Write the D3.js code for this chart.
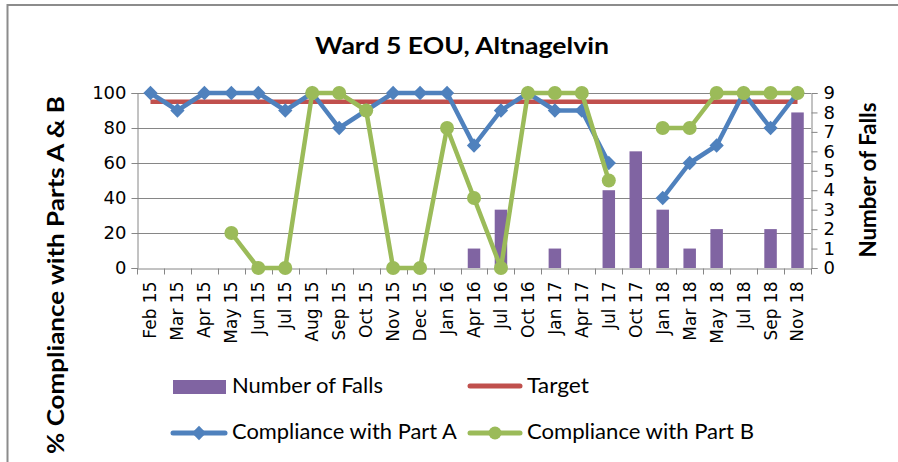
<!DOCTYPE html>
<html>
<head>
<meta charset="utf-8">
<script src="https://cdn.jsdelivr.net/npm/d3@7"></script>
<style>
  body { margin: 0; background: #fff; }
  svg { display: block; font-family: Lato, sans-serif; }
  .tick text { fill: #000; }
</style>
</head>
<body>
<svg id="chart" width="898" height="462"></svg>
<script>
// chart data
const months = ["Feb 15","Mar 15","Apr 15","May 15","Jun 15","Jul 15","Aug 15","Sep 15","Oct 15","Nov 15",
  "Dec 15","Jan 16","Apr 16","Jul 16","Oct 16","Jan 17","Apr 17","Jul 17","Oct 17","Jan 18",
  "Mar 18","May 18","Jul 18","Sep 18","Nov 18"];
const partA = [100,90,100,100,100,90,100,80,90,100,100,100,70,90,100,90,90,60,null,40,60,70,100,80,100];
const partB = [null,null,null,20,0,0,100,100,90,0,0,80,40,0,100,100,100,50,null,80,80,100,100,100,100];
const falls = [0,0,0,0,0,0,0,0,0,0,0,0,1,3,0,1,0,4,6,3,1,2,0,2,8];
const target = 95;
const leftTicks = [0,20,40,60,80,100];
const rightTicks = [0,1,2,3,4,5,6,7,8,9];

const colors = {falls: "#8064A2", target: "#C0504D", a: "#4F81BD", b: "#9BBB59", axis: "#868686"};

const svg = d3.select("#chart");
const margin = {left: 137, right: 87, top: 93, bottom: 194};
const W = 898, H = 462;

// stretch/squeeze a text horizontally so it takes the given width (the original font is Calibri)
function fitText(sel, tx, ty, width, rot) {
  const w = sel.node().getComputedTextLength();
  const k = width / w;
  sel.attr("transform", `translate(${tx},${ty})${rot ? " rotate(" + rot + ")" : ""} scale(${k},1)`);
  return sel;
}

// outer frame
svg.append("rect").attr("x", 7.5).attr("y", 5).attr("width", 900).attr("height", 470)
  .attr("fill", "none").attr("stroke", "#8c8c8c").attr("stroke-width", 2);

const x = d3.scaleBand().domain(months).range([margin.left, W - margin.right]);
const yL = d3.scaleLinear().domain([0, 100]).range([H - margin.bottom, margin.top]);
const yR = d3.scaleLinear().domain([0, 9]).range([H - margin.bottom, margin.top]);
const cx = d => x(d) + x.bandwidth() / 2;

// title
fitText(svg.append("text").attr("text-anchor", "middle")
  .style("font-size", "23px").style("font-weight", "bold")
  .text("Ward 5 EOU, Altnagelvin"), 462, 54, 294);

// gridlines
svg.append("g").selectAll("line").data(leftTicks.filter(d => d > 0)).join("line")
  .attr("x1", margin.left).attr("x2", W - margin.right)
  .attr("y1", d => yL(d) + 0.5).attr("y2", d => yL(d) + 0.5)
  .attr("stroke", colors.axis).attr("stroke-width", 1);

// axes
const axL = svg.append("g").attr("transform", `translate(${margin.left + 0.5},0)`)
  .call(d3.axisLeft(yL).tickValues(leftTicks).tickSizeOuter(0).tickSize(6).tickPadding(5));
const axR = svg.append("g").attr("transform", `translate(${W - margin.right + 0.5},0)`)
  .call(d3.axisRight(yR).tickValues(rightTicks).tickSizeOuter(0).tickSize(6).tickPadding(6));
const axX = svg.append("g").attr("transform", `translate(0,${H - margin.bottom + 0.5})`)
  .call(d3.axisBottom(x).tickSize(0).tickPadding(0));
[axL, axR, axX].forEach(g => {
  g.select(".domain").attr("stroke", colors.axis);
  g.selectAll(".tick line").attr("stroke", colors.axis);
  g.selectAll(".tick text").style("font-family", "DejaVu Sans, sans-serif").style("font-size", "17px");
});
axR.selectAll(".tick text").style("font-size", "18px");
axL.selectAll(".tick text").style("font-size", "18px");
axX.selectAll(".tick text")
  .attr("transform", "rotate(-90)").attr("text-anchor", "end")
  .attr("x", -13).attr("y", 0).attr("dy", "0.35em");
// x ticks at band edges
const edges = months.map(m => x(m)).concat([W - margin.right]);
axX.append("g").selectAll("line").data(edges).join("line")
  .attr("x1", d => Math.round(d) + 0.5).attr("x2", d => Math.round(d) + 0.5)
  .attr("y1", 0).attr("y2", 6).attr("stroke", colors.axis);

// axis titles
fitText(svg.append("text").attr("text-anchor", "middle").style("font-weight", "bold")
  .style("font-size", "22px").text("% Compliance with Parts A & B"), 64, 275, 358, -90);
fitText(svg.append("text").attr("text-anchor", "middle").style("font-weight", "bold")
  .style("font-size", "22px").text("Number of Falls"), 876, 180, 155, -90);

// falls bars
const bw = 12.5;
svg.append("g").selectAll("rect").data(months.map((m, i) => ({m, v: falls[i]})).filter(d => d.v > 0)).join("rect")
  .attr("x", d => cx(d.m) - bw / 2).attr("width", bw)
  .attr("y", d => yR(d.v)).attr("height", d => yR(0) - yR(d.v))
  .attr("fill", colors.falls);

// target line
svg.append("line").attr("x1", cx(months[0])).attr("x2", cx(months[months.length - 1]))
  .attr("y1", yL(target)).attr("y2", yL(target))
  .attr("stroke", colors.target).attr("stroke-width", 4.5);

const line = d3.line().defined(d => d.v != null).x(d => cx(d.m)).y(d => yL(d.v));
const ptsA = months.map((m, i) => ({m, v: partA[i]}));
const ptsB = months.map((m, i) => ({m, v: partB[i]}));

svg.append("path").datum(ptsA).attr("d", line).attr("fill", "none")
  .attr("stroke", colors.a).attr("stroke-width", 4.5).attr("stroke-linejoin", "round");
svg.append("g").selectAll("path").data(ptsA.filter(d => d.v != null)).join("path")
  .attr("d", d3.symbol(d3.symbolDiamond2, 130)())
  .attr("transform", d => `translate(${cx(d.m)},${yL(d.v)})`)
  .attr("fill", colors.a);

svg.append("path").datum(ptsB).attr("d", line).attr("fill", "none")
  .attr("stroke", colors.b).attr("stroke-width", 4.5).attr("stroke-linejoin", "round");
svg.append("g").selectAll("circle").data(ptsB.filter(d => d.v != null)).join("circle")
  .attr("cx", d => cx(d.m)).attr("cy", d => yL(d.v)).attr("r", 7)
  .attr("fill", colors.b);

// legend
const lg = svg.append("g").style("font-size", "21px");
const legText = (xx, yy, t, len) => fitText(lg.append("text").text(t), xx, yy, len);
lg.append("rect").attr("x", 173).attr("y", 380).attr("width", 53).attr("height", 14).attr("fill", colors.falls);
legText(232, 393, "Number of Falls", 151);
lg.append("line").attr("x1", 470).attr("x2", 520).attr("y1", 386).attr("y2", 386)
  .attr("stroke", colors.target).attr("stroke-width", 5).attr("stroke-linecap", "round");
legText(527, 393, "Target", 62);
lg.append("line").attr("x1", 173).attr("x2", 225).attr("y1", 433).attr("y2", 433)
  .attr("stroke", colors.a).attr("stroke-width", 5).attr("stroke-linecap", "round");
lg.append("path").attr("d", d3.symbol(d3.symbolDiamond2, 130)())
  .attr("transform", "translate(199,433)").attr("fill", colors.a);
legText(232, 439, "Compliance with Part A", 225);
lg.append("line").attr("x1", 470).attr("x2", 520).attr("y1", 433).attr("y2", 433)
  .attr("stroke", colors.b).attr("stroke-width", 5).attr("stroke-linecap", "round");
lg.append("circle").attr("cx", 495).attr("cy", 433).attr("r", 6.5).attr("fill", colors.b);
legText(527, 439, "Compliance with Part B", 227);
</script>
</body>
</html>
